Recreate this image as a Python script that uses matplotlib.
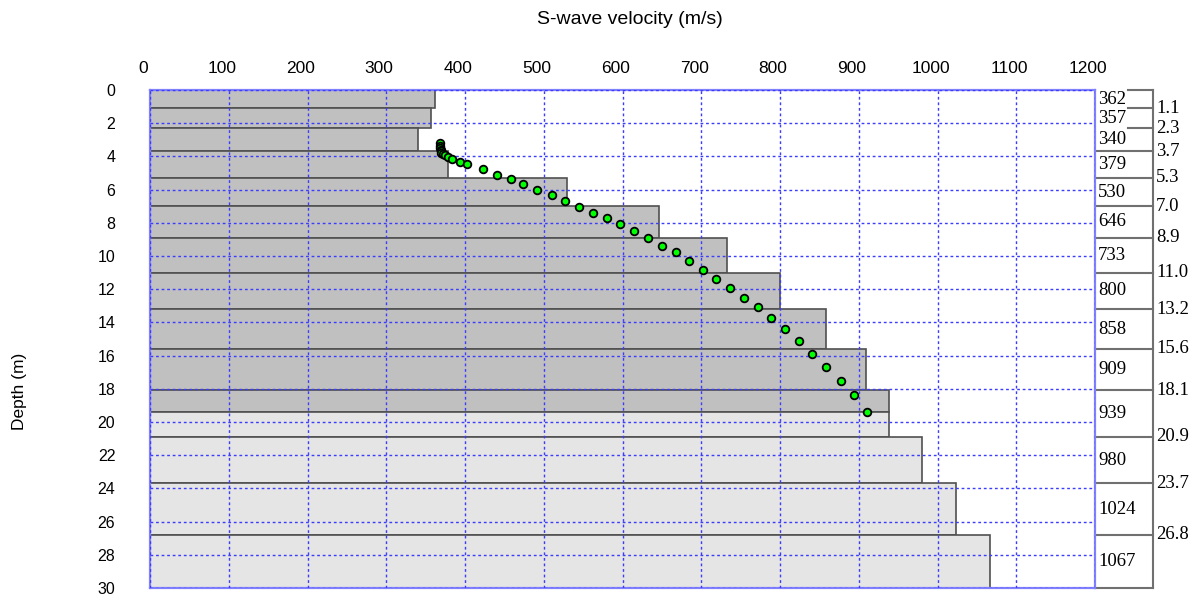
import numpy as np
import matplotlib
matplotlib.use("Agg")
import matplotlib.pyplot as plt
from matplotlib.transforms import ScaledTranslation

# layered model: boundaries (m) and S-wave velocity per layer (m/s)
boundaries = [0, 1.1, 2.3, 3.7, 5.3, 7.0, 8.9, 11.0, 13.2, 15.6, 18.1, 20.9, 23.7, 26.8, 30.0]
velocity = [362, 357, 340, 379, 530, 646, 733, 800, 858, 909, 939, 980, 1024, 1067]
boundary_labels = ["1.1", "2.3", "3.7", "5.3", "7.0", "8.9", "11.0", "13.2",
                   "15.6", "18.1", "20.9", "23.7", "26.8"]

# observed points (velocity, depth)
obs_v = [368, 368, 368, 369, 369, 370, 372, 375, 379, 383, 394, 403, 423, 440, 458,
         474, 492, 510, 527, 545, 562, 580, 597, 615, 632, 650, 668, 685, 702, 719,
         736, 754, 772, 789, 806, 824, 841, 859, 877, 894, 911]
obs_d = [3.22, 3.35, 3.48, 3.60, 3.70, 3.78, 3.85, 3.94, 4.05, 4.18, 4.32, 4.46, 4.78,
         5.10, 5.38, 5.66, 6.02, 6.31, 6.70, 7.06, 7.40, 7.70, 8.10, 8.50, 8.92, 9.38,
         9.78, 10.32, 10.83, 11.36, 11.94, 12.52, 13.10, 13.76, 14.38, 15.10, 15.90,
         16.66, 17.50, 18.38, 19.40]

xticks = list(range(0, 1201, 100))
yticks = list(range(0, 31, 2))

W, H = 1201, 596
fig = plt.figure(figsize=(W / 100, H / 100), dpi=100)
ax = fig.add_axes([150 / W, 8 / H, 945 / W, 498 / H])

dark = "#c0c0c0"
light = "#e5e5e5"
edge = "#505050"
split = max(obs_d)

for i, v in enumerate(velocity):
    top, bot = boundaries[i], boundaries[i + 1]
    if bot <= split:
        parts = [(top, bot, dark)]
    elif top >= split:
        parts = [(top, bot, light)]
    else:
        parts = [(top, split, dark), (split, bot, light)]
    for t, b, c in parts:
        ax.barh(t, v, height=b - t, left=0, align="edge", color=c,
                edgecolor=edge, linewidth=1.2, zorder=1)

ax.plot(obs_v, obs_d, "o", ms=5.5, mfc="#00ff00", mec="black", mew=1.3, zorder=4)

ax.set_xlim(0, 1200)
ax.set_ylim(30, 0)
ax.set_xticks(xticks)
ax.set_yticks(yticks)
ax.xaxis.tick_top()
ax.tick_params(axis="both", length=0)
ax.tick_params(axis="x", pad=10, labelsize=12.5)
ax.tick_params(axis="y", pad=25, labelsize=11.5)
for lbl in ax.get_xticklabels() + ax.get_yticklabels():
    lbl.set_fontfamily("Liberation Sans")
for lbl in ax.get_xticklabels():
    lbl.set_transform(lbl.get_transform() + ScaledTranslation(-7 / 100, 0, fig.dpi_scale_trans))

ax.set_axisbelow(False)
ax.grid(True, color="#3c3cff", linestyle=(0, (2, 2)), linewidth=1.0, zorder=2)
for s in ax.spines.values():
    s.set_color("#8080ff")
    s.set_linewidth(1.6)

# right-hand layer annotation panel
px = lambda p: (p - 150) / 0.7875
x_in, x_short, x_bar, x_dep = px(1098), px(1128), px(1153), px(1156)
lc = "#707070"
ax.plot([x_bar, x_bar], [0, 30], color=lc, lw=1.5, clip_on=False)
for k, b in enumerate(boundaries):
    x0 = x_short if k < 3 else 1200
    ax.plot([x0, x_bar], [b, b], color=lc, lw=1.5, clip_on=False)
for i, v in enumerate(velocity):
    mid = (boundaries[i] + boundaries[i + 1]) / 2
    ax.text(x_in, mid, str(v), ha="left", va="center", fontsize=13.5,
            family="Liberation Serif", clip_on=False)
for b, s in zip(boundaries[1:-1], boundary_labels):
    ax.text(x_dep, b, s, ha="left", va="center", fontsize=13.5,
            family="Liberation Serif", clip_on=False)

fig.text(630 / W, 1 - 19 / H, "S-wave velocity (m/s)", ha="center", va="center",
         fontsize=14, family="Liberation Sans")
fig.text(20 / W, 1 - 391 / H, "Depth (m)", ha="center", va="center", rotation=90,
         fontsize=12.5, family="Liberation Sans")

fig.savefig("out.png", dpi=100)
